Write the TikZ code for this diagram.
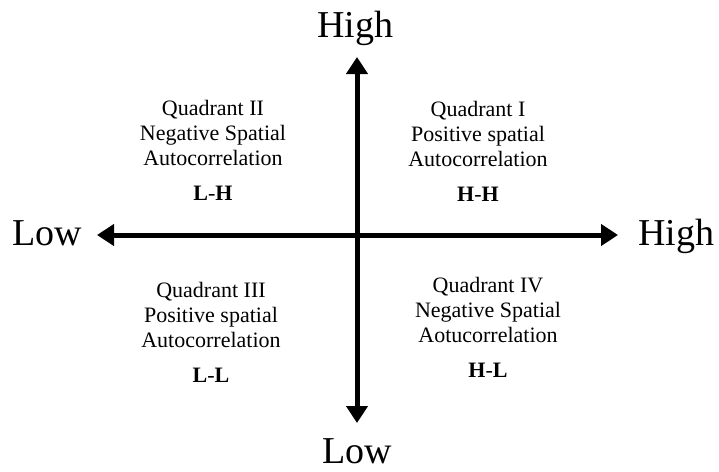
\documentclass[tikz,border=0pt]{standalone}
\usepackage{fontspec}
\setmainfont{Liberation Serif}
\usetikzlibrary{arrows.meta,positioning}

\begin{document}
\begin{tikzpicture}[x=1pt,y=-1pt,
  axis/.style={line width=5pt,{Triangle[width=21pt,length=17pt]}-{Triangle[width=21pt,length=17pt]}},
  endlabel/.style={font=\fontsize{38}{40}\selectfont,inner sep=0pt,anchor=base},
  quad/.style={font=\fontsize{22}{25}\selectfont,align=center,inner sep=0pt,anchor=south},
  pair/.style={font=\fontsize{22}{25}\selectfont,inner sep=0pt}]
  \useasboundingbox (0,0) rectangle (719,471);
  \coordinate (O) at (357,235);
  \coordinate (W) at (97,235);
  \coordinate (E) at (618,235);
  \coordinate (N) at (357,57);
  \coordinate (S) at (357,423);
  \draw[axis] (W) -- (E);
  \draw[axis] (S) -- (N);
  % axis ends
  \node[endlabel] (ytop) at (355,37) {High};
  \node[endlabel] (ybot) at (357,463) {Low};
  \node[endlabel] (xleft) at (47,245) {Low};
  \node[endlabel] (xright) at (676,245) {High};
  % quadrants
  \node[quad] (q2) at (213,166) {Quadrant II\\Negative Spatial\\Autocorrelation};
  \node[pair,below=20pt of q2] (q2lab) {\textbf{L}-\textbf{H}};
  \node[quad] (q1) at (478,167) {Quadrant I\\Positive spatial\\Autocorrelation};
  \node[pair,below=20pt of q1] (q1lab) {\textbf{H}-\textbf{H}};
  \node[quad] (q3) at (211,348) {Quadrant III\\Positive spatial\\Autocorrelation};
  \node[pair,below=20pt of q3] (q3lab) {\textbf{L}-\textbf{L}};
  \node[quad] (q4) at (488,343) {Quadrant IV\\Negative Spatial\\Aotucorrelation};
  \node[pair,below=20pt of q4] (q4lab) {\textbf{H}-\textbf{L}};
\end{tikzpicture}
\end{document}
